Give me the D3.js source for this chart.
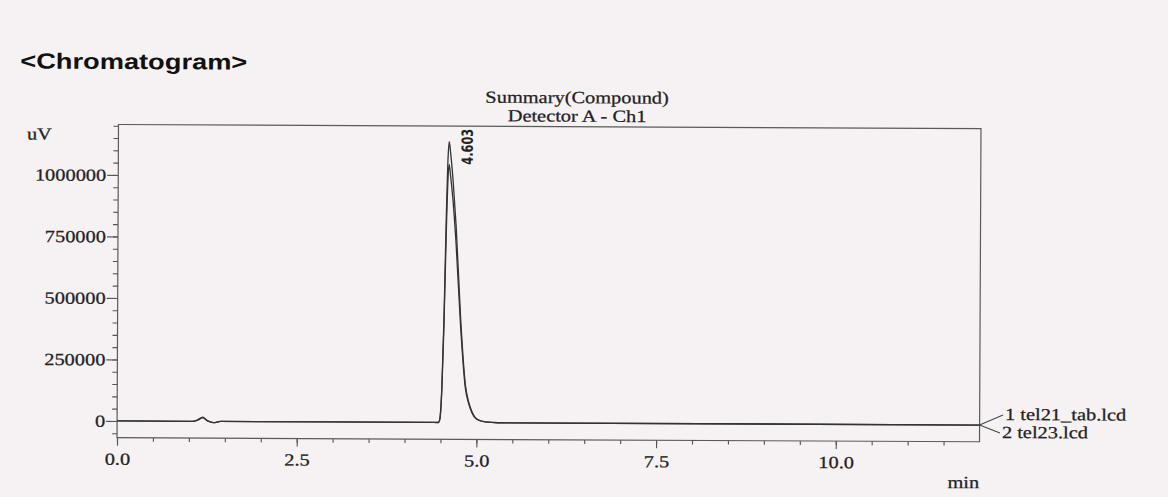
<!DOCTYPE html>
<html>
<head>
<meta charset="utf-8">
<script src="https://cdn.jsdelivr.net/npm/d3@7"></script>
<style>
  body { margin: 0; background: #f6f1f3; }
  svg { display: block; }
  .serif { font-family: "Liberation Serif", "Times New Roman", serif; fill: #222; stroke: #222; stroke-width: 0.25px; }
</style>
</head>
<body>
<svg id="chart" width="1168" height="497"></svg>
<script>
// retention time (min) shared by both traces
var times = [0, 1.05, 1.12, 1.19, 1.26, 1.34, 1.44, 4.40, 4.47, 4.49, 4.517, 4.541, 4.565, 4.588, 4.603,
             4.625, 4.66, 4.704, 4.773, 4.843, 4.889, 4.935, 5.0, 5.12, 5.3, 12];
// detector signal (uV)
var tel21 = [0, 0, 6000, 17000, 2000, -5000, 0, 0, 0, 16000, 154000, 423000, 809000, 1080000, 1142000,
             1090000, 980000, 800000, 423000, 154000, 85000, 45000, 16000, 3000, 0, 0];
var tel23 = [0, 0, 5000, 14000, 2000, -5000, 0, 0, 0, 12000, 140000, 390000, 740000, 990000, 1049000,
             1000000, 900000, 730000, 390000, 140000, 78000, 40000, 14000, 3000, 0, 0];
var seriesNames = ["1 tel21_tab.lcd", "2 tel23.lcd"];
var yTicks = [0, 250000, 500000, 750000, 1000000];
var xTicks = [0, 2.5, 5.0, 7.5, 10.0];
var peakTime = 4.603;

var margin = {left: 118.5, top: 124.5};
var width = 862.5, height = 313.2;
var sx = 1.2; // scan is a bit wider than tall

var svg = d3.select("#chart");
var root = svg.append("g").attr("transform", "rotate(0.27," + margin.left + "," + margin.top + ")");
var chartGroup = root.append("g").attr("transform", `translate(${margin.left},${margin.top})`);

var x = d3.scaleLinear().domain([0, 12]).range([0, width]);
var y = d3.scaleLinear().domain([-68000, 1205000]).range([height, 0]);

function widen(sel, k) {
  sel.each(function() {
    var t = d3.select(this);
    var tx = +t.attr("x") || 0;
    t.attr("transform", `translate(${tx},0) scale(${k},1) translate(${-tx},0)`);
  });
}

function styleAxis(g) {
  g.select(".domain").remove();
  g.selectAll("line").attr("stroke", "#555").attr("stroke-width", 1.1);
  g.selectAll("text").attr("class", "serif").attr("font-size", 17);
}

// minor ticks
var yMinor = chartGroup.append("g")
  .call(d3.axisLeft(y).tickValues(d3.range(-50000, 1200001, 50000)).tickSize(5).tickFormat(""));
styleAxis(yMinor);
var xMinor = chartGroup.append("g")
  .attr("transform", `translate(0, ${height})`)
  .call(d3.axisBottom(x).tickValues(d3.range(0, 11.6, 0.5)).tickSize(4).tickFormat(""));
styleAxis(xMinor);

// major ticks + labels
var leftAxis = chartGroup.append("g")
  .call(d3.axisLeft(y).tickValues(yTicks).tickSize(11).tickPadding(1).tickFormat(d3.format("d")));
styleAxis(leftAxis);
widen(leftAxis.selectAll("text"), sx);

var bottomAxis = chartGroup.append("g")
  .attr("transform", `translate(0, ${height})`)
  .call(d3.axisBottom(x).tickValues(xTicks).tickSize(8).tickPadding(7).tickFormat(d3.format(".1f")));
styleAxis(bottomAxis);
widen(bottomAxis.selectAll("text"), sx);

// frame
chartGroup.append("rect")
  .attr("width", width).attr("height", height)
  .attr("fill", "none").attr("stroke", "#5a5a5a").attr("stroke-width", 1.2);

// traces
var line = d3.line()
  .x((d, i) => x(times[i]))
  .y(d => y(d))
  .curve(d3.curveMonotoneX);

[tel23, tel21].forEach(function(s) {
  chartGroup.append("path")
    .datum(s)
    .attr("d", line)
    .attr("fill", "none")
    .attr("stroke", "#333")
    .attr("stroke-width", 1.3);
});

// peak label
var pi = times.indexOf(peakTime);
chartGroup.append("text")
  .attr("transform", `translate(${x(peakTime) + 23.5},${y(tel21[pi]) + 23}) rotate(-90) scale(0.9,1.1)`)
  .attr("font-family", "'Liberation Sans Narrow', 'DejaVu Sans Condensed', sans-serif")
  .attr("font-weight", "bold")
  .attr("font-size", 14)
  .attr("fill", "#222")
  .text(d3.format(".3f")(peakTime));

// legend connectors and names
var ends = [[1004.4 - margin.left, 410.8 - margin.top], [1001.4 - margin.left, 428.8 - margin.top]];
var labelPos = [[1006.4 - margin.left, 415.8 - margin.top], [1003.4 - margin.left, 433.8 - margin.top]];
[tel21, tel23].forEach(function(s, i) {
  chartGroup.append("line")
    .attr("x1", x(12)).attr("y1", y(s[s.length - 1]))
    .attr("x2", ends[i][0]).attr("y2", ends[i][1])
    .attr("stroke", "#444").attr("stroke-width", 1);
  var t = chartGroup.append("text")
    .attr("class", "serif").attr("font-size", 17)
    .attr("x", labelPos[i][0]).attr("y", labelPos[i][1])
    .text(seriesNames[i]);
  widen(t, sx);
});

// texts
var minLabel = root.append("text").attr("class", "serif").attr("font-size", 17)
  .attr("x", 965).attr("y", 484).attr("text-anchor", "middle").text("min");
widen(minLabel, sx);

var uvLabel = root.append("text").attr("class", "serif").attr("font-size", 17)
  .attr("x", 27).attr("y", 140).text("uV");
widen(uvLabel, sx);

var sub1 = root.append("text").attr("class", "serif").attr("font-size", 17)
  .attr("x", 577).attr("y", 101).attr("text-anchor", "middle").text("Summary(Compound)");
var sub2 = root.append("text").attr("class", "serif").attr("font-size", 17)
  .attr("x", 577).attr("y", 119.5).attr("text-anchor", "middle").text("Detector A - Ch1");
widen(sub1, sx);
widen(sub2, sx);

root.append("text")
  .attr("x", 20).attr("y", 69)
  .attr("font-family", "'Liberation Sans', Arial, sans-serif")
  .attr("font-weight", "bold")
  .attr("font-size", 22)
  .attr("textLength", 227)
  .attr("lengthAdjust", "spacingAndGlyphs")
  .attr("fill", "#111")
  .text("<Chromatogram>");
</script>
</body>
</html>
